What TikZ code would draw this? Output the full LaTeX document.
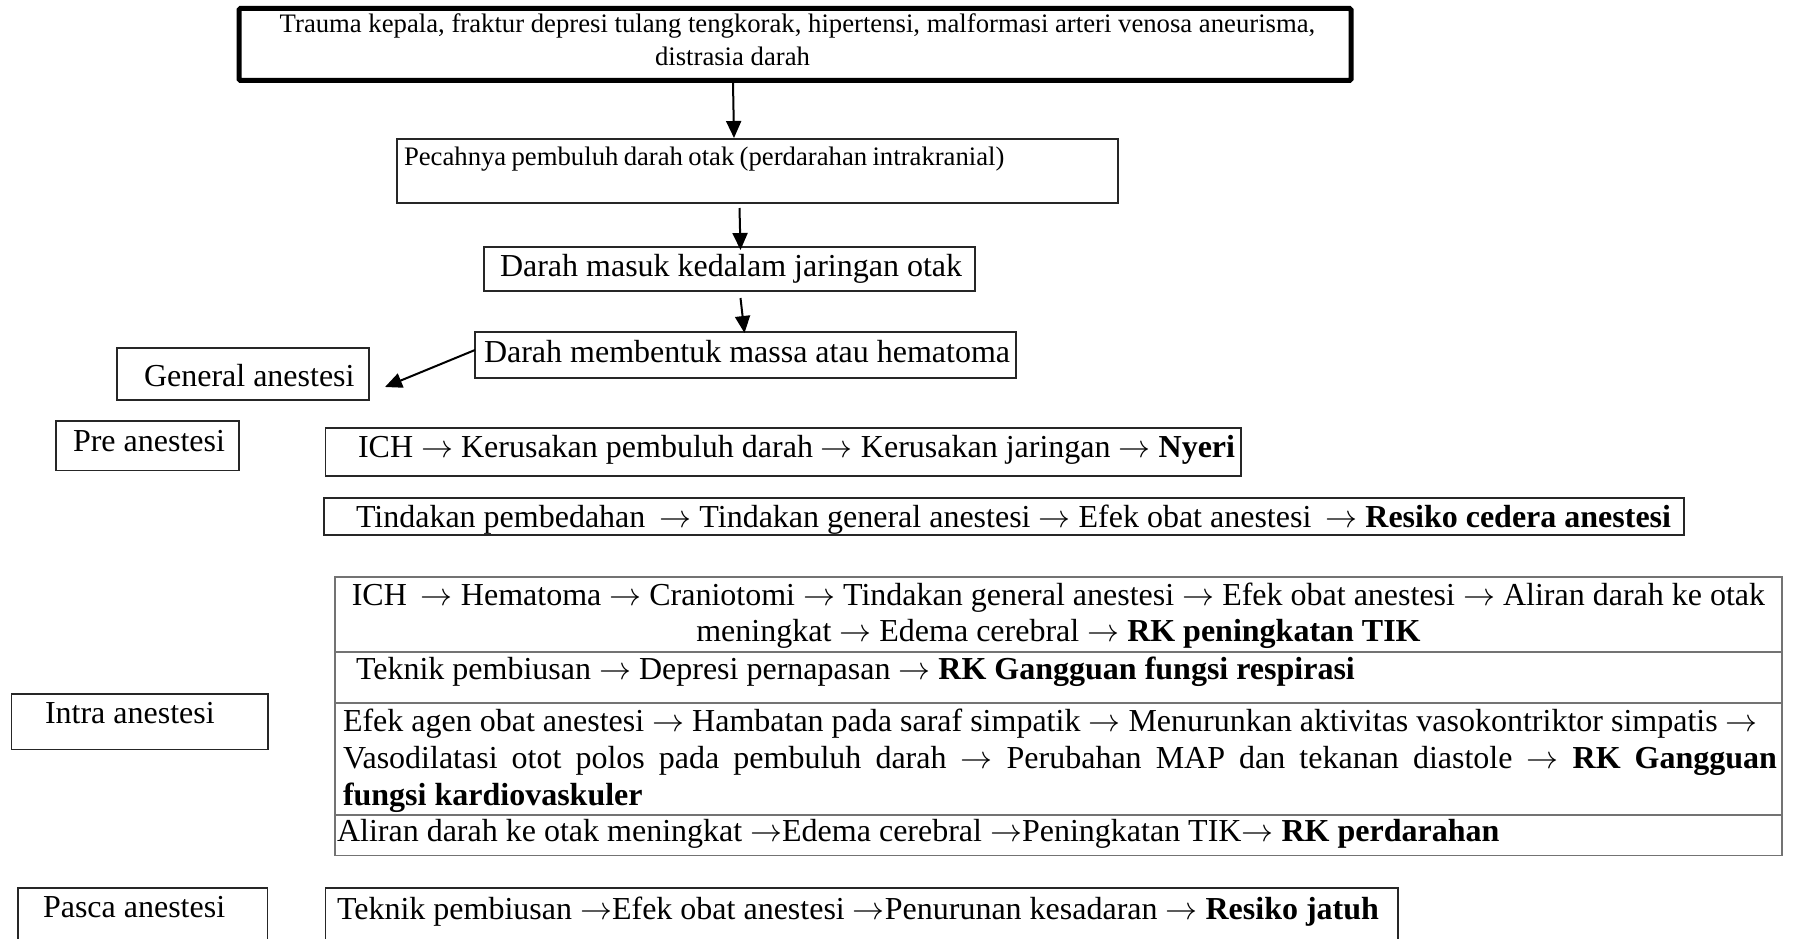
\RequirePackage{fix-cm}
\documentclass[tikz,border=0pt]{standalone}
\usepackage{fontspec}
\setmainfont{Liberation Serif}
\usetikzlibrary{arrows.meta}
\newcommand{\ra}{\ensuremath{\rightarrow}}
\begin{document}
\begin{tikzpicture}[x=1pt,y=-1pt,
  box/.style={draw=black!85, line width=1.3pt, anchor=north west, inner sep=0pt, outer sep=0pt},
  topbox/.style={box, draw=black, line width=5pt, rounded corners=1.5pt},
  rowbox/.style={box, draw=black!55, line width=1.2pt},
  txt/.style={anchor=base west, inner sep=0pt, outer sep=0pt, font=\fontsize{32}{37}\selectfont},
  ctxt/.style={txt, anchor=base},
  small/.style={font=\fontsize{26.7}{31}\selectfont},
  arr/.style={line width=2pt, -{Triangle[length=17pt,width=15pt]}}
]
\useasboundingbox (0,0) rectangle (1793,939);
\clip (0,0) rectangle (1793,939);
\fill[white] (0,0) rectangle (1793,939);

% boxes
\node[topbox, minimum width=1112pt, minimum height=72pt] (top) at (239,8.5) {};
\node[box, minimum width=721pt, minimum height=64pt] (b2) at (397,139) {};
\node[box, minimum width=491pt, minimum height=44pt] (b3) at (484,247) {};
\node[box, minimum width=541pt, minimum height=46pt] (b4) at (475,332) {};
\node[box, minimum width=252pt, minimum height=52pt] (ga) at (117,348) {};
\node[box, minimum width=183pt, minimum height=49.5pt] (pre) at (56,421) {};
\node[box, minimum width=915.5pt, minimum height=48pt] (pre1) at (325.5,428) {};
\node[box, minimum width=1360pt, minimum height=37pt] (pre2) at (324,498) {};
\node[rowbox, minimum width=1447pt, minimum height=75pt] (r1) at (335,577) {};
\node[rowbox, minimum width=1447pt, minimum height=51pt] (r2) at (335,652) {};
\node[rowbox, minimum width=1447pt, minimum height=112pt] (r3) at (335,703) {};
\node[rowbox, minimum width=1447pt, minimum height=40.5pt] (r4) at (335,815) {};
\node[box, minimum width=256.5pt, minimum height=55.6pt] (intra) at (11.5,694) {};
\node[box, minimum width=249.5pt, minimum height=72pt] (pasca) at (18,888) {};
\node[box, minimum width=1072.5pt, minimum height=72pt] (pasca1) at (325.5,888) {};

% texts
\node[ctxt, small] (ttop1) at (797.5,33) {Trauma kepala, fraktur depresi tulang tengkorak, hipertensi, malformasi arteri venosa aneurisma,};
\node[ctxt, small] (ttop2) at (732.5,65.7) {distrasia darah};
\node[txt, small] (tb2) at (404,165) {\spaceskip=0.2em plus 0.1em Pecahnya pembuluh darah otak (perdarahan intrakranial)};
\node[txt] (tb3) at (500,276) {Darah masuk kedalam jaringan otak};
\node[txt] (tb4) at (484,362) {Darah membentuk massa atau hematoma};
\node[txt] (tga) at (144,386.7) {General anestesi};
\node[txt] (tpre) at (73,451.6) {Pre anestesi};
\node[txt] (tpre1) at (358,457) {ICH \ra{} Kerusakan pembuluh darah \ra{} Kerusakan jaringan \ra{} \textbf{Nyeri}};
\node[txt] (tpre2) at (356,527) {Tindakan pembedahan\hspace{6pt} \ra{} Tindakan general anestesi \ra{} Efek obat anestesi\hspace{6pt} \ra{} \textbf{Resiko cedera anestesi}};
\node[ctxt] (tr1a) at (1058.5,605) {ICH\hspace{6pt} \ra{} Hematoma \ra{} Craniotomi \ra{} Tindakan general anestesi \ra{} Efek obat anestesi \ra{} Aliran darah ke otak};
\node[ctxt] (tr1b) at (1058.5,641) {meningkat \ra{} Edema cerebral \ra{} \textbf{RK peningkatan TIK}};
\node[txt] (tr2) at (356,679) {Teknik pembiusan \ra{} Depresi pernapasan \ra{} \textbf{RK Gangguan fungsi respirasi}};
\node[txt] (tr3a) at (343,731) {Efek agen obat anestesi \ra{} Hambatan pada saraf simpatik \ra{} Menurunkan aktivitas vasokontriktor simpatis \ra};
\node[txt] (tr3b) at (343,768) {\makebox[1434pt][s]{Vasodilatasi otot polos pada pembuluh darah \ra{} Perubahan MAP dan tekanan diastole \ra{} \textbf{RK Gangguan}}};
\node[txt] (tr3c) at (343,805.6) {\textbf{fungsi kardiovaskuler}};
\node[txt] (tr4) at (337,841.7) {Aliran darah ke otak meningkat \ra{}Edema cerebral \ra{}Peningkatan TIK\ra{} \textbf{RK perdarahan}};
\node[txt] (tintra) at (45,723) {Intra anestesi};
\node[txt] (tpasca) at (43,917) {Pasca anestesi};
\node[txt] (tpasca1) at (337,919) {Teknik pembiusan \ra{}Efek obat anestesi \ra{}Penurunan kesadaran \ra{} \textbf{Resiko jatuh}};

% arrows
\draw[arr] ([xshift=-62pt,yshift=-2.5pt]top.south) -- ([xshift=-23.5pt,yshift=1pt]b2.north);
\draw[arr] ([xshift=-18pt,yshift=-5pt]b2.south) -- ([xshift=11pt,yshift=-3pt]b3.north);
\draw[arr] ([xshift=11pt,yshift=-7pt]b3.south) -- ([xshift=-1pt,yshift=-1pt]b4.north);
\draw[arr] ([yshift=5pt]b4.west) -- ([xshift=16pt,yshift=-13pt]ga.east);
\end{tikzpicture}
\end{document}
